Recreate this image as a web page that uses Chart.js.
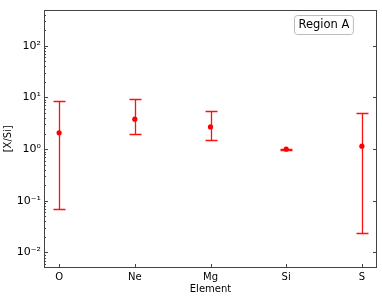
<!DOCTYPE html>
<html><head><meta charset="utf-8">
<script src="https://cdn.jsdelivr.net/npm/chart.js@4/dist/chart.umd.min.js"></script>
<style>html,body{margin:0;padding:0;background:#fff}canvas{display:block}</style>
</head><body>
<canvas id="c" width="382" height="298"></canvas>
<script>
const elements = ['O', 'Ne', 'Mg', 'Si', 'S'];
const ratio = [2.07, 3.8, 2.69, 1.0, 1.14];
const errLow = [0.068, 1.96, 1.5, 0.975, 0.0236];
const errHigh = [8.6, 9.4, 5.5, 1.025, 5.1];
const yTickExps = [-2, -1, 0, 1, 2];
const legendText = 'Region A';

const sup = {'-':'\u207B','0':'\u2070','1':'\u00B9','2':'\u00B2','3':'\u00B3','4':'\u2074','5':'\u2075','6':'\u2076','7':'\u2077','8':'\u2078','9':'\u2079'};
const supStr = s => String(s).split('').map(c => sup[c]).join('');

Chart.defaults.font.family = 'DejaVu Sans';
Chart.defaults.font.size = 10;
Chart.defaults.color = '#000';

const points = elements.map((e, i) => ({x: i, y: ratio[i]}));

const deco = {
  id: 'deco',
  beforeDatasetsDraw(chart) {
    const {ctx, scales: {x, y}} = chart;
    ctx.save();
    ctx.strokeStyle = '#ff1010';
    ctx.lineWidth = 1.3;
    elements.forEach((e, i) => {
      const px = Math.round(x.getPixelForValue(i)) + 0.5;
      const lo = Math.round(y.getPixelForValue(errLow[i])) + 0.5;
      const hi = Math.round(y.getPixelForValue(errHigh[i])) + 0.5;
      ctx.beginPath();
      ctx.moveTo(px, lo); ctx.lineTo(px, hi);
      ctx.moveTo(px - 6, lo); ctx.lineTo(px + 6, lo);
      ctx.moveTo(px - 6, hi); ctx.lineTo(px + 6, hi);
      ctx.stroke();
    });
    ctx.restore();
  },
  afterDraw(chart) {
    const {ctx, chartArea: a, scales: {x, y}} = chart;
    ctx.save();
    ctx.strokeStyle = '#444';
    ctx.lineWidth = 1;
    ctx.strokeRect(Math.round(a.left) + 0.5, Math.round(a.top) + 0.5, Math.round(a.right - a.left) - 1, Math.round(a.bottom - a.top) - 1);
    ctx.beginPath();
    yTickExps.forEach(k => {
      const py = Math.round(y.getPixelForValue(Math.pow(10, k))) + 0.5;
      ctx.moveTo(a.left, py); ctx.lineTo(a.left + 4, py);
      ctx.moveTo(a.right, py); ctx.lineTo(a.right - 4, py);
    });
    for (let k = -3; k <= 3; k++) {
      for (let m = 2; m <= 9; m++) {
        const v = m * Math.pow(10, k);
        if (v < y.min || v > y.max) continue;
        const py = Math.round(y.getPixelForValue(v)) + 0.5;
        ctx.moveTo(a.left, py); ctx.lineTo(a.left + 2, py);
      }
    }
    elements.forEach((e, i) => {
      const px = Math.round(x.getPixelForValue(i)) + 0.5;
      ctx.moveTo(px, a.bottom); ctx.lineTo(px, a.bottom - 4);
    });
    ctx.stroke();
    ctx.font = '11.5px "DejaVu Sans"';
    const tw = ctx.measureText(legendText).width;
    const bx = 294.5, by = 15.5, bw = tw + 8, bh = 19;
    ctx.strokeStyle = '#bbb';
    ctx.fillStyle = 'rgba(255,255,255,0.8)';
    ctx.beginPath();
    ctx.roundRect(bx, by, bw, bh, 3);
    ctx.fill(); ctx.stroke();
    ctx.fillStyle = '#000';
    ctx.textBaseline = 'middle';
    ctx.fillText(legendText, bx + 4, by + bh / 2 + 0.5);
    ctx.restore();
  }
};

new Chart(document.getElementById('c'), {
  type: 'scatter',
  data: {
    datasets: [{
      data: points,
      backgroundColor: '#ff0000',
      borderColor: '#ff0000',
      pointRadius: 2.6,
      pointHoverRadius: 2.6,
      borderWidth: 0
    }]
  },
  options: {
    responsive: false,
    animation: false,
    events: [],
    layout: {padding: {top: 4, right: 5, left: 0, bottom: 0}},
    plugins: {legend: {display: false}, tooltip: {enabled: false}},
    scales: {
      x: {
        type: 'linear',
        min: -0.2, max: 4.2,
        grid: {display: false, drawTicks: false},
        border: {display: false},
        afterBuildTicks: s => { s.ticks = elements.map((e, i) => ({value: i})); },
        afterFit: s => { s.height = 30; },
        ticks: {padding: 3, autoSkip: false, maxRotation: 0, callback: v => elements[v]},
        title: {display: true, text: 'Element', padding: {top: 0, bottom: 3}, font: {size: 10}}
      },
      y: {
        type: 'logarithmic',
        min: Math.pow(10, -2.3), max: Math.pow(10, 2.7),
        grid: {display: false, drawTicks: false},
        border: {display: false},
        afterBuildTicks: s => { s.ticks = yTickExps.map(k => ({value: Math.pow(10, k)})); },
        afterFit: s => { s.width = 44; },
        ticks: {padding: 3, autoSkip: false, font: {size: 11}, callback: v => '10' + supStr(Math.round(Math.log10(v)))},
        title: {display: true, text: '[X/Si]', padding: {top: 2, bottom: 0}, font: {size: 10}}
      }
    }
  },
  plugins: [deco]
});
</script>
</body></html>
